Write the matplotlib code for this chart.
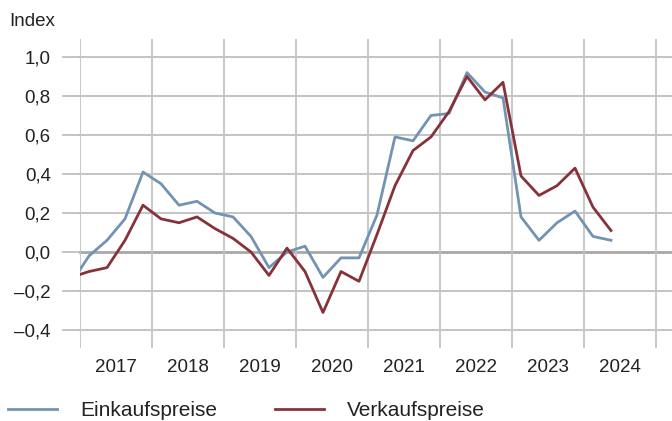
import numpy as np
import matplotlib
matplotlib.use('Agg')
import matplotlib.pyplot as plt

# quarterly values, 2016 Q4 .. 2024 Q2 (first point lies left of the visible range)
quarters = [(2016, 4)] + [(y, q) for y in range(2017, 2025) for q in range(1, 5)][:30]
einkauf = [-0.16,
           -0.02, 0.06, 0.17, 0.41, 0.35, 0.24, 0.26, 0.20, 0.18, 0.08,
           -0.08, 0.00, 0.03, -0.13, -0.03, -0.03, 0.19, 0.59, 0.57, 0.70,
           0.71, 0.92, 0.82, 0.79, 0.18, 0.06, 0.15, 0.21, 0.08, 0.06]
verkauf = [-0.13,
           -0.10, -0.08, 0.06, 0.24, 0.17, 0.15, 0.18, 0.12, 0.07, 0.00,
           -0.12, 0.02, -0.10, -0.31, -0.10, -0.15, 0.09, 0.34, 0.52, 0.59,
           0.72, 0.90, 0.78, 0.87, 0.39, 0.29, 0.34, 0.43, 0.23, 0.11]
years = list(range(2017, 2025))
yticks = [-0.4, -0.2, 0.0, 0.2, 0.4, 0.6, 0.8, 1.0]

x = np.array([y + (q - 0.5) / 4 for y, q in quarters])

plt.rcParams['font.family'] = ['Liberation Sans', 'DejaVu Sans']
fig = plt.figure(figsize=(6.72, 4.21), dpi=100)
ax = fig.add_axes([80 / 672, 73 / 421, 592 / 672, 309 / 421])

grid_c = '#b4b4b4'
for yv in yticks:
    ax.axhline(yv, color='#a8a8a8' if yv == 0 else grid_c,
               lw=2.0 if yv == 0 else 1.1, zorder=1, clip_on=False)
for yr in range(2017, 2026):
    ax.axvline(yr, color='#c4c4c4', lw=1.3, zorder=1)

l1, = ax.plot(x, einkauf, color='#7393b3', lw=2.0, zorder=3, label='Einkaufspreise')
l2, = ax.plot(x, verkauf, color='#87323a', lw=2.0, zorder=3, label='Verkaufspreise')

ax.set_xlim(2017.0, 2017 + 592 / 72)
ax.set_ylim(-0.492, 1.092)
for s in ax.spines.values():
    s.set_visible(False)

ax.set_yticks(yticks)
ax.set_yticklabels([f'{v:.1f}'.replace('.', ',').replace('-', '\u2013') for v in yticks])
ax.tick_params(axis='y', length=13, width=1.1, color=grid_c, pad=8,
               labelsize=13.5, labelcolor='#222222')
ax.set_xticks([yr + 0.5 for yr in years])
ax.set_xticklabels([str(yr) for yr in years])
ax.tick_params(axis='x', length=0, pad=8, labelsize=13.5, labelcolor='#222222')

fig.text(9 / 672, 1 - 21 / 421, 'Index', fontsize=13.5, color='#222222', va='center')

fig.legend(handles=[l1, l2], loc='center left', bbox_to_anchor=(8 / 672, 10 / 421),
           ncol=2, frameon=False, fontsize=15, handlelength=2.35,
           handletextpad=1.1, columnspacing=2.8, borderaxespad=0.0, borderpad=0.0,
           labelcolor='#222222')

fig.savefig('out.png', dpi=100)
